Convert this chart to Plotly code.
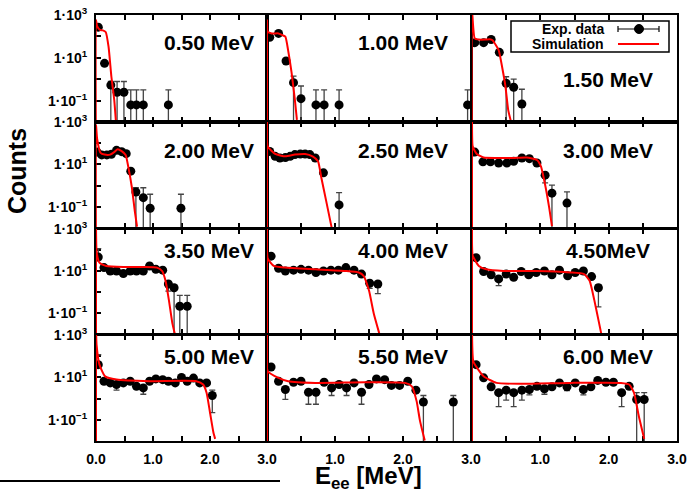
import plotly.graph_objects as go

# ---------------- data ----------------
LABELS = ["0.50 MeV", "1.00 MeV", "1.50 MeV",
          "2.00 MeV", "2.50 MeV", "3.00 MeV",
          "3.50 MeV", "4.00 MeV", "4.50MeV",
          "5.00 MeV", "5.50 MeV", "6.00 MeV"]

X_TICKS = [0.0, 0.5, 1.0, 1.5, 2.0, 2.5, 3.0]
X_TICKTEXT_FIRST = ["0.0", "", "1.0", "", "2.0", "", "3.0"]
X_TICKTEXT_OTHER = ["", "", "1.0", "", "2.0", "", "3.0"]
Y_TICKS = [0.01, 0.1, 1, 10, 100, 1000]
Y_TICKTEXT = ["", "1·10<sup>−1</sup>", "", "1·10<sup>1</sup>", "", "1·10<sup>3</sup>"]

# experimental points: energy [MeV], counts, upper / lower end of the error bar
E_050 = [0.04, 0.15, 0.26, 0.37, 0.49, 0.61, 0.71, 0.83, 1.27]
N_050 = [270, 5.5, 0.53, 0.245, 0.245, 0.063, 0.063, 0.063, 0.063]
HI_050 = [300, 6.5, 0.78, 0.78, 0.78, 0.32, 0.32, 0.32, 0.32]
LO_050 = [240, 4.6, 1e-4, 1e-4, 1e-4, 1e-4, 1e-4, 1e-4, 1e-4]

E_100 = [0.04, 0.17, 0.28, 0.39, 0.50, 0.72, 0.84, 1.06, 2.95]
N_100 = [91, 138, 7.1, 0.69, 0.123, 0.063, 0.063, 0.063, 0.063]
HI_100 = [100, 150, 8.0, 1.4, 0.48, 0.32, 0.32, 0.32, 0.32]
LO_100 = [83, 126, 6.2, 1e-4, 1e-4, 1e-4, 1e-4, 1e-4, 1e-4]

E_150 = [0.04, 0.17, 0.28, 0.40, 0.50, 0.61, 0.73]
N_150 = [51, 51, 72, 18, 0.65, 0.42, 0.069]
HI_150 = [56, 56, 79, 21, 1.3, 1.0, 0.34]
LO_150 = [46, 46, 65, 15, 1e-4, 1e-4, 1e-4]

E_200 = [0.02, 0.10, 0.19, 0.27, 0.36, 0.45, 0.53, 0.61, 0.70, 0.83, 0.95, 1.49]
N_200 = [38, 28, 28, 30, 46, 40, 32, 4.8, 0.5, 0.27, 0.085, 0.085]
HI_200 = [42, 31, 31, 33, 50, 44, 35, 5.6, 0.79, 0.79, 0.39, 0.39]
LO_200 = [34, 25, 25, 27, 42, 36, 29, 4.0, 1e-4, 1e-4, 1e-4, 1e-4]

E_250 = [0.04, 0.12, 0.19, 0.27, 0.34, 0.41, 0.49, 0.56, 0.63, 0.71, 0.83, 1.06]
N_250 = [41, 24, 20, 21, 24, 29, 31, 31, 29, 20, 4.0, 0.123]
HI_250 = [45, 26, 22, 23, 26, 32, 34, 34, 32, 22, 4.6, 0.47]
LO_250 = [37, 22, 18, 19, 22, 26, 28, 28, 26, 18, 3.4, 1e-4]

E_300 = [0.04, 0.16, 0.27, 0.39, 0.51, 0.61, 0.73, 0.84, 0.95, 1.07, 1.17, 1.39]
N_300 = [38, 13.2, 13.2, 11.7, 11.7, 14.1, 20, 18.6, 11.7, 3.1, 0.44, 0.15]
HI_300 = [42, 14.5, 14.5, 13, 13, 15.5, 22, 20.5, 13, 3.6, 1.05, 0.51]
LO_300 = [34, 12, 12, 10.5, 10.5, 12.7, 18, 16.7, 10.5, 1.35, 1e-4, 1e-4]

E_350 = [0.04, 0.14, 0.25, 0.36, 0.48, 0.60, 0.71, 0.83, 0.94, 1.05, 1.17, 1.27, 1.37, 1.47, 1.60]
N_350 = [46, 14.5, 10, 10, 7.6, 10, 10, 10, 17.4, 12, 11, 2.4, 1.6, 0.21, 0.21]
HI_350 = [117, 16, 11, 11, 8.5, 11, 11, 11, 19, 13.2, 12, 2.8, 1.9, 0.69, 0.69]
LO_350 = [35, 13, 9, 9, 6, 9, 9, 9, 15.7, 10.8, 10, 1.1, 1e-4, 1e-4, 1e-4]

E_400 = [0.06, 0.17, 0.27, 0.39, 0.50, 0.61, 0.72, 0.83, 0.94, 1.05, 1.16, 1.28, 1.39, 1.51, 1.63]
N_400 = [51, 13.5, 10, 11, 12, 11, 8.5, 10, 11, 11, 14.5, 11, 7.1, 2.6, 2.4]
HI_400 = [56, 15, 11, 12, 13, 12, 9.5, 11, 12, 12, 16, 12, 8, 3.0, 2.8]
LO_400 = [46, 12, 9, 10, 11, 10, 7.5, 9, 10, 10, 13, 10, 6.2, 1.5, 0.83]

E_450 = [0.06, 0.17, 0.28, 0.39, 0.50, 0.61, 0.72, 0.83, 0.94, 1.06, 1.17, 1.28, 1.40, 1.51, 1.63, 1.75, 1.85]
N_450 = [43, 9.5, 6.6, 4.2, 7.1, 5.0, 9.5, 6.6, 8.5, 10, 6.6, 11, 5.9, 8.5, 10, 5.4, 1.6]
HI_450 = [48, 10.5, 7.5, 5.0, 8.0, 5.8, 10.5, 7.5, 9.5, 11, 7.5, 12, 6.8, 9.5, 11, 6.2, 2.2]
LO_450 = [38, 8.5, 5.7, 2.0, 6.2, 4.0, 8.5, 5.7, 7.5, 9, 5.7, 10, 4.8, 7.5, 9, 4.5, 0.195]

E_500 = [0.04, 0.14, 0.25, 0.36, 0.48, 0.60, 0.71, 0.83, 0.94, 1.05, 1.17, 1.27, 1.39, 1.50, 1.60, 1.71, 1.82, 1.94, 2.04]
N_500 = [40, 6.6, 5.5, 4.6, 5.5, 6.6, 3.8, 3.2, 6.6, 8.5, 7.8, 6.6, 5.5, 10, 6.6, 9.3, 5.5, 5.5, 1.4]
HI_500 = [117, 7.5, 6.3, 5.3, 6.3, 7.5, 4.4, 3.8, 7.5, 9.5, 8.8, 7.5, 6.3, 11, 7.5, 10.5, 6.3, 6.3, 2.5]
LO_500 = [32, 5.8, 4.7, 2.5, 4.7, 5.8, 3.2, 1.6, 5.8, 7.5, 6.8, 5.8, 4.7, 9, 5.8, 8.2, 4.7, 4.7, 0.22]

E_550 = [0.06, 0.17, 0.27, 0.39, 0.50, 0.61, 0.72, 0.84, 0.95, 1.06, 1.17, 1.28, 1.39, 1.50, 1.61,
         1.73, 1.83, 1.95, 2.07, 2.19, 2.30, 2.74]
N_550 = [31, 6.6, 2.7, 5.9, 6.6, 2.0, 2.0, 5.9, 3.2, 4.6, 3.2, 5.5, 2.0, 4.6, 8.5,
         7.8, 4.2, 4.2, 6.6, 2.5, 0.69, 0.69]
HI_550 = [35, 7.5, 3.2, 6.8, 7.5, 2.4, 2.4, 6.8, 3.8, 5.3, 3.8, 6.3, 2.4, 5.3, 9.5,
          8.8, 4.9, 4.9, 7.5, 3.0, 1.4, 1.4]
LO_550 = [27, 5.8, 0.91, 5.0, 5.8, 0.54, 0.54, 5.0, 1.4, 3.9, 1.4, 4.7, 0.54, 3.9, 7.5,
          6.8, 3.5, 3.5, 5.8, 2.0, 1e-4, 1e-4]

E_600 = [0.06, 0.17, 0.28, 0.39, 0.50, 0.61, 0.73, 0.84, 0.95, 1.06, 1.17, 1.28, 1.39, 1.51, 1.63,
         1.74, 1.84, 1.96, 2.07, 2.19, 2.30, 2.41, 2.52]
N_600 = [40, 9.5, 3.6, 1.9, 2.5, 1.9, 2.5, 2.7, 3.8, 2.9, 3.6, 5.5, 3.6, 5.5, 2.7,
         3.6, 7.2, 5.9, 5.9, 1.9, 3.8, 0.91, 0.91]
HI_600 = [45, 10.5, 4.2, 2.3, 3.0, 2.3, 3.0, 3.2, 4.4, 3.4, 4.2, 6.3, 4.2, 6.3, 3.2,
          4.2, 8.0, 6.8, 6.8, 2.3, 4.4, 1.9, 1.9]
LO_600 = [35, 8.5, 3.0, 0.42, 0.85, 0.42, 0.85, 1.5, 3.2, 1.6, 3.0, 4.7, 2.4, 4.7, 1.5,
          2.8, 6.4, 5.0, 5.0, 0.42, 3.2, 1e-4, 1e-4]

# simulation curves: energy [MeV], counts
SIM_E_050 = [0, 0, 0.02, 0.07, 0.12, 0.17, 0.22, 0.27, 0.32, 0.35]
SIM_N_050 = [1e-4, 590, 300, 200, 190, 160, 33, 1.3, 0.107, 0.0102]
SIM_E_100 = [0, 0, 0.01, 0.07, 0.17, 0.22, 0.27, 0.31, 0.36, 0.41, 0.44]
SIM_N_100 = [1e-4, 590, 166, 138, 138, 117, 98, 23, 2.2, 0.107, 0.0126]
SIM_E_150 = [0, 0, 0.04, 0.10, 0.20, 0.26, 0.30, 0.39, 0.44, 0.49, 0.53, 0.57]
SIM_N_150 = [1e-4, 1600, 81, 71, 71, 74, 66, 23, 3.8, 0.45, 0.036, 0.0105]
SIM_E_200 = [0, 0, 0.02, 0.08, 0.15, 0.25, 0.33, 0.38, 0.45, 0.52, 0.57, 0.63, 0.68, 0.72]
SIM_N_200 = [1e-4, 720, 158, 35, 29, 29, 40, 52, 42, 28, 6.9, 0.79, 0.065, 0.0115]
SIM_E_250 = [0, 0, 0.01, 0.12, 0.27, 0.41, 0.56, 0.67, 0.75, 0.80, 0.87, 0.95]
SIM_N_250 = [1e-4, 1600, 71, 31, 24, 29, 31, 24, 14.1, 2.3, 0.19, 0.0107]
SIM_E_300 = [0, 0, 0.01, 0.07, 0.17, 0.36, 0.60, 0.80, 0.95, 1.01, 1.07, 1.13, 1.17]
SIM_N_300 = [1e-4, 1600, 71, 31, 21, 20, 20, 21, 16.2, 7.9, 1.1, 0.089, 0.0123]
SIM_E_350 = [0, 0, 0.01, 0.06, 0.18, 0.48, 0.83, 1.07, 1.16, 1.22, 1.28, 1.34, 1.38]
SIM_N_350 = [1e-4, 1600, 87, 25, 17.4, 15.5, 15.5, 14.5, 10, 3.4, 0.39, 0.032, 0.011]
SIM_E_400 = [0, 0, 0.01, 0.10, 0.26, 0.71, 1.15, 1.35, 1.42, 1.50, 1.57, 1.65]
SIM_N_400 = [1e-4, 1600, 40, 17.4, 14.5, 12, 10, 8.5, 5.9, 1.17, 0.095, 0.011]
SIM_E_450 = [0, 0, 0.01, 0.10, 0.21, 0.46, 0.95, 1.44, 1.64, 1.72, 1.79, 1.85, 1.89]
SIM_N_450 = [1e-4, 1600, 55, 17.4, 12, 10, 10, 8.5, 7.1, 3.5, 0.41, 0.047, 0.011]
SIM_E_500 = [0, 0, 0.01, 0.06, 0.16, 0.36, 0.94, 1.76, 1.88, 1.94, 2.00, 2.06, 2.09]
SIM_N_500 = [1e-4, 1600, 340, 40, 11.2, 7.9, 6.6, 6.6, 4.6, 1.9, 0.22, 0.025, 0.0126]
SIM_E_550 = [0, 0, 0.01, 0.17, 0.31, 0.71, 1.44, 2.03, 2.13, 2.20, 2.25, 2.32]
SIM_N_550 = [1e-4, 1600, 19.5, 9.5, 6.6, 5.5, 5.9, 5.5, 3.8, 0.76, 0.089, 0.0105]
SIM_E_600 = [0, 0, 0.02, 0.17, 0.36, 0.71, 1.44, 2.18, 2.30, 2.37, 2.44, 2.52]
SIM_N_600 = [1e-4, 1600, 56, 11.2, 5.5, 5.0, 5.5, 5.5, 4.6, 1.9, 0.155, 0.0126]

PANELS = [
    (E_050, N_050, HI_050, LO_050, SIM_E_050, SIM_N_050),
    (E_100, N_100, HI_100, LO_100, SIM_E_100, SIM_N_100),
    (E_150, N_150, HI_150, LO_150, SIM_E_150, SIM_N_150),
    (E_200, N_200, HI_200, LO_200, SIM_E_200, SIM_N_200),
    (E_250, N_250, HI_250, LO_250, SIM_E_250, SIM_N_250),
    (E_300, N_300, HI_300, LO_300, SIM_E_300, SIM_N_300),
    (E_350, N_350, HI_350, LO_350, SIM_E_350, SIM_N_350),
    (E_400, N_400, HI_400, LO_400, SIM_E_400, SIM_N_400),
    (E_450, N_450, HI_450, LO_450, SIM_E_450, SIM_N_450),
    (E_500, N_500, HI_500, LO_500, SIM_E_500, SIM_N_500),
    (E_550, N_550, HI_550, LO_550, SIM_E_550, SIM_N_550),
    (E_600, N_600, HI_600, LO_600, SIM_E_600, SIM_N_600),
]

# ---------------- layout geometry (pixels) ----------------
W, H = 689, 490
COLS = [(96, 267), (267, 471), (472, 677)]
ROWS = [(15, 122), (122, 228), (229, 334), (335, 441)]
LABEL_X = [209, 403, 608]
LABEL_DY = [28, 28, 21, 21]
FONT = "Liberation Sans, Arial, sans-serif"


def px(x):
    return x / W


def py(y):
    return 1 - y / H


fig = go.Figure()
layout = dict(
    width=W, height=H, margin=dict(l=0, r=0, t=0, b=0, autoexpand=False),
    paper_bgcolor="white", plot_bgcolor="white", showlegend=False,
    font=dict(family=FONT, color="black"),
)
annotations = []
shapes = []

for i, (E, N, HI, LO, SE, SN) in enumerate(PANELS):
    r, c = divmod(i, 3)
    k = "" if i == 0 else str(i + 1)
    x0, x1 = COLS[c]
    y0, y1 = ROWS[r]
    bottom = (r == 3)
    layout["xaxis" + k] = dict(
        domain=[px(x0), px(x1)], range=[0, 3], anchor="y" + k, automargin=False,
        showline=True, linewidth=2, linecolor="black", mirror="allticks",
        ticks="inside", ticklen=5, tickwidth=1.5, tickcolor="black",
        tickvals=X_TICKS,
        ticktext=X_TICKTEXT_FIRST if c == 0 else X_TICKTEXT_OTHER,
        showticklabels=bottom, ticklabelstandoff=4,
        tickfont=dict(family=FONT, size=14, color="black", weight="bold"),
        showgrid=False, zeroline=False, layer="below traces",
    )
    layout["yaxis" + k] = dict(
        domain=[py(y1), py(y0)], type="log", range=[-2, 3], anchor="x" + k, automargin=False,
        showline=True, linewidth=2, linecolor="black", mirror=True,
        ticks="inside" if c == 0 else "", ticklen=5, tickwidth=1.5, tickcolor="black",
        tickvals=Y_TICKS, ticktext=Y_TICKTEXT, showticklabels=(c == 0),
        ticklabelstandoff=4,
        tickfont=dict(family=FONT, size=14, color="black", weight="bold"),
        showgrid=False, zeroline=False, layer="below traces",
    )
    err_up = [h - n for h, n in zip(HI, N)]
    err_dn = [n - lo for n, lo in zip(N, LO)]
    fig.add_trace(go.Scatter(
        x=E, y=N, mode="markers", xaxis="x" + k, yaxis="y" + k,
        marker=dict(color="black", size=9),
        error_y=dict(type="data", symmetric=False, array=err_up, arrayminus=err_dn,
                     color="#444444", thickness=1.3, width=3),
    ))
    fig.add_trace(go.Scatter(
        x=SE, y=SN, mode="lines", xaxis="x" + k, yaxis="y" + k,
        line=dict(color="red", width=2, shape="spline", smoothing=0.5),
    ))
    ly = y0 + (65 if i == 2 else LABEL_DY[r])
    annotations.append(dict(
        x=px(LABEL_X[c]), y=py(ly), xref="paper", yref="paper",
        text=LABELS[i], showarrow=False, xanchor="center", yanchor="middle",
        font=dict(family=FONT, size=21, color="black", weight="bold"),
    ))

# axis titles
annotations.append(dict(
    x=px(17), y=py(171), xref="paper", yref="paper", text="Counts",
    textangle=-90, showarrow=False, xanchor="center", yanchor="middle",
    font=dict(family=FONT, size=25, color="black", weight="bold"),
))
annotations.append(dict(
    x=px(368), y=py(477), xref="paper", yref="paper", text="E<sub>ee</sub> [MeV]",
    showarrow=False, xanchor="center", yanchor="middle",
    font=dict(family=FONT, size=24, color="black", weight="bold"),
))

# legend (drawn like the original: text on the left, sample on the right)
shapes.append(dict(type="rect", xref="paper", yref="paper",
                   x0=px(511), x1=px(669), y0=py(52), y1=py(21),
                   line=dict(color="black", width=1.5), fillcolor="white", layer="above"))
annotations.append(dict(x=px(606), y=py(29), xref="paper", yref="paper", text="Exp. data",
                        showarrow=False, xanchor="right", yanchor="middle",
                        font=dict(family=FONT, size=14, color="black", weight="bold")))
annotations.append(dict(x=px(606), y=py(44), xref="paper", yref="paper", text="Simulation",
                        showarrow=False, xanchor="right", yanchor="middle",
                        font=dict(family=FONT, size=14, color="black", weight="bold")))
shapes.append(dict(type="line", xref="paper", yref="paper", x0=px(618), x1=px(659),
                   y0=py(29), y1=py(29), line=dict(color="black", width=1.2), layer="above"))
for xc in (618, 659):
    shapes.append(dict(type="line", xref="paper", yref="paper", x0=px(xc), x1=px(xc),
                       y0=py(26), y1=py(32), line=dict(color="black", width=1.2), layer="above"))
shapes.append(dict(type="circle", xref="paper", yref="paper", x0=px(634.5), x1=px(643.5),
                   y0=py(33.5), y1=py(24.5), line=dict(color="black", width=1),
                   fillcolor="black", layer="above"))
shapes.append(dict(type="line", xref="paper", yref="paper", x0=px(618), x1=px(659),
                   y0=py(44), y1=py(44), line=dict(color="red", width=2), layer="above"))

# stray horizontal rule at the bottom-left of the original figure
shapes.append(dict(type="line", xref="paper", yref="paper", x0=0, x1=px(280),
                   y0=py(481), y1=py(481), line=dict(color="black", width=2)))

layout["annotations"] = annotations
layout["shapes"] = shapes
fig.update_layout(**layout)
fig.write_html(
    "out.html",
    config={"displayModeBar": False},
    post_script="document.body.style.margin='0px';document.body.style.overflow='hidden';",
)
